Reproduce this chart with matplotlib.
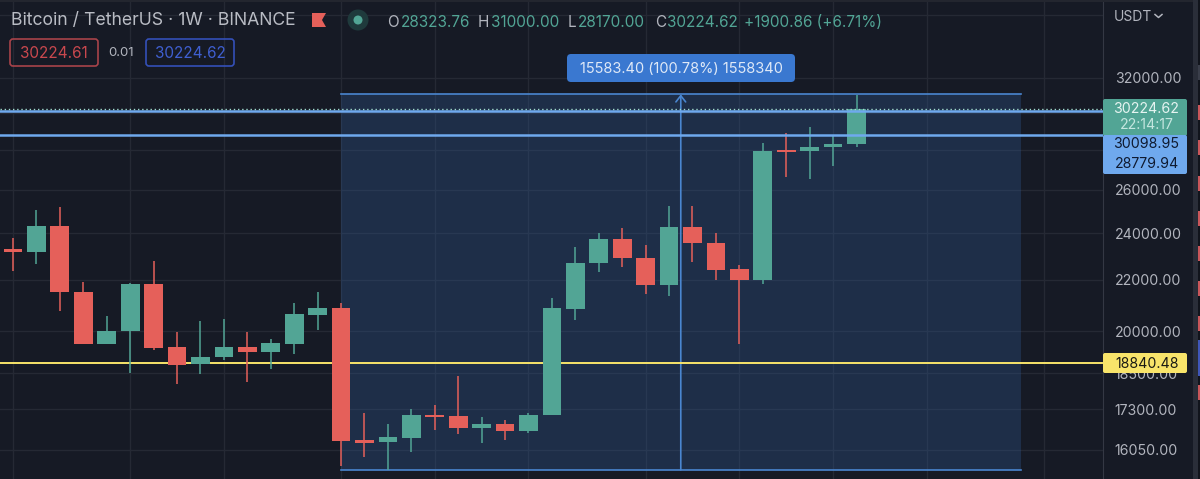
import matplotlib
matplotlib.use("Agg")
from matplotlib import pyplot as plt
from matplotlib.patches import FancyBboxPatch, Rectangle, Polygon, Circle
from matplotlib.ticker import FixedLocator, FormatStrFormatter, NullLocator
import numpy as np

# weekly candles
opens = [23318, 23162, 24320, 21519, 19549, 20006, 21827, 19420, 18816, 19062,
         19442, 19263, 19549, 20619, 20901, 16349, 16281, 16420, 17128, 17086,
         16729, 16843, 16607, 17128, 20862, 22693, 23738, 22929, 21787, 24289,
         23551, 22444, 21999, 28003, 27951, 28159, 28323.76]
highs = [23783, 25054, 25207, 21919, 20592, 21860, 22801, 19968, 20389, 20476,
         19968, 19719, 21094, 21506, 21094, 17201, 16834, 17320, 17449, 18412,
         17064, 16967, 17192, 21266, 23404, 23993, 24244, 23477, 25253, 25239,
         23993, 22622, 28383, 28884, 29224, 28793, 31000]
lows = [22385, 22664, 20773, 19539, 19540, 18526, 19323, 18141, 18492, 18976,
        18207, 18664, 19191, 20054, 15582, 15834, 15476, 15998, 16658, 16544,
        16260, 16349, 16565, 17118, 20426, 22319, 22527, 21438, 21370, 22747,
        21999, 19549, 21839, 26648, 26533, 27199, 28170]
closes = [23162, 24320, 21506, 19549, 20006, 21827, 19406, 18792, 19073, 19442,
          19263, 19574, 20646, 20901, 16328, 16260, 16432, 17118, 17064, 16720,
          16843, 16607, 17137, 20878, 22718, 23751, 22916, 21787, 24289, 23551,
          22427, 21999, 27967, 27899, 28175, 28324, 30224.62]

price_ticks = [36000, 32000, 30000, 28000, 26000, 24000, 22000, 20000, 18500, 17300, 16050]
time_grid = [0, 5, 9, 14, 18, 22, 27, 31, 35, 39, 44]

last_price = 30224.62
range_high = 30098.95
range_low = 28779.94
support = 18840.48
measure_top = 31046
measure_bottom = 15463
measure_start = 14
measure_end = 43

BG = "#161a25"
GRID = "#252934"
GREEN = "#52a595"
RED = "#e5605a"
BLUE = "#4a86d0"
LIGHT_BLUE = "#6fa9ee"
YELLOW = "#f8e46a"
TEXT = "#b2b5be"
AXIS_SIZE = 10.2

W, H = 1200, 479
AXIS_X = 1103

fig = plt.figure(figsize=(W / 100, H / 100), dpi=100, facecolor=BG)
plt.rcParams["font.family"] = ["Inter", "DejaVu Sans"]

ax = fig.add_axes([0, 0, AXIS_X / W, 1], facecolor=BG)
ax.set_yscale("log")
ax.set_xlim(-0.555, 46.52)
ax.set_ylim(15206, 36982)

# Grid and price axis
ax.yaxis.tick_right()
ax.yaxis.set_major_locator(FixedLocator(price_ticks))
ax.yaxis.set_minor_locator(NullLocator())
ax.yaxis.set_major_formatter(FormatStrFormatter("%.2f"))
ax.tick_params(axis="y", length=0, pad=8.5, labelsize=AXIS_SIZE, labelcolor=TEXT)
ax.xaxis.set_major_locator(FixedLocator(time_grid))
ax.xaxis.set_minor_locator(NullLocator())
ax.tick_params(axis="x", length=0, labelbottom=False)
ax.grid(True, color=GRID, linewidth=1)
ax.set_axisbelow(True)
for name, spine in ax.spines.items():
    spine.set_visible(name == "right")
    spine.set_color("#343844")
labels = ax.get_yticklabels()
labels[0].set_visible(False)
labels[2].set_visible(False)
labels[3].set_visible(False)

# Measure box
ax.fill_between([measure_start, measure_end], measure_bottom, measure_top,
                color="#315d9a", alpha=0.3, linewidth=0, zorder=1)
ax.plot([measure_start, measure_end], [measure_top, measure_top], color=BLUE, lw=1.2, zorder=2)
ax.plot([measure_start, measure_end], [measure_bottom, measure_bottom], color=BLUE, lw=1.2, zorder=2)
mid = (measure_start + measure_end) / 2
ax.annotate("", xy=(mid, measure_top), xytext=(mid, measure_bottom), zorder=2,
            arrowprops=dict(arrowstyle="->,head_length=0.45,head_width=0.35", color=BLUE, lw=1.2,
                            shrinkA=0, shrinkB=0))

# Horizontal levels
ax.axhline(support, color=YELLOW, lw=1.4, zorder=2)
ax.axhline(range_high, color=LIGHT_BLUE, lw=1.8, zorder=5)
ax.axhline(range_low, color=LIGHT_BLUE, lw=1.8, zorder=5)
ax.axhline(last_price, color="#9fd8cc", lw=1, ls=(0, (1, 2)), zorder=5)

# Candles
x = np.arange(len(opens))
o, h, l, c = map(np.array, (opens, highs, lows, closes))
colors = [GREEN if up else RED for up in c >= o]
ax.vlines(x, l, h, colors=colors, linewidth=1.1, zorder=3)
ax.bar(x, np.abs(c - o), bottom=np.minimum(o, c), width=0.8, color=colors, linewidth=0, zorder=4)

# Overlay in pixel units for the header and price labels
ui = fig.add_axes([0, 0, 1, 1])
ui.set_xlim(0, W)
ui.set_ylim(H, 0)
ui.axis("off")
ui.patch.set_alpha(0)


def box(x0, y0, x1, y1, face="none", edge="none", radius=2, lw=1.0, z=6):
    ui.add_patch(FancyBboxPatch((x0 + radius, y0 + radius), x1 - x0 - 2 * radius, y1 - y0 - 2 * radius,
                                boxstyle=f"round,pad={radius},rounding_size={radius}",
                                facecolor=face, edgecolor=edge, linewidth=lw, zorder=z))


# top edge and right gutter
ui.add_patch(Rectangle((0, 0), W, 1.5, color="#23262f", lw=0))
ui.add_patch(Rectangle((1193, 0), 7, H, color="#2a2e39", lw=0))
ui.add_patch(Rectangle((1198, 0), 2, H, color="#11141c", lw=0))
ui.add_patch(Rectangle((1198, 65), 2, 15, color="#3a3e4a", lw=0))
for top in [105, 140, 176, 211, 246, 281, 316, 385]:
    ui.add_patch(Rectangle((1198, top), 2, 15, color="#c9565a", lw=0))
ui.add_patch(Rectangle((1198, 340), 2, 36, color="#3f56b8", lw=0))

# header
ui.text(11, 20, "Bitcoin / TetherUS · 1W · BINANCE", color="#b9bcc4", fontsize=12.7, va="center")
ui.add_patch(Polygon([(312, 13), (326, 13), (322, 20), (326, 27), (312, 27)], color=RED, lw=0))
ui.add_patch(Circle((358, 20), 10.5, color="#1f3a3c", lw=0))
ui.add_patch(Circle((358, 20), 4.5, color=GREEN, lw=0))

ohlc = [(387, "O", 401, "28323.76"), (478, "H", 491, "31000.00"),
        (568, "L", 578, "28170.00"), (655, "C", 667, "30224.62")]
for lx, letter, vx, value in ohlc:
    ui.text(lx, 22, letter, color=TEXT, fontsize=11, va="center")
    ui.text(vx, 22, value, color=GREEN, fontsize=11, va="center")
ui.text(744, 22, "+1900.86 (+6.71%)", color=GREEN, fontsize=11, va="center")

box(10, 39, 98, 66, edge="#a8434a", radius=3, lw=1.2)
ui.text(54, 53, "30224.61", color="#c9484e", fontsize=11, ha="center", va="center")
ui.text(121, 53, "0.01", color=TEXT, fontsize=9.5, ha="center", va="center")
box(146, 39, 234, 66, edge="#3450b8", radius=3, lw=1.2)
ui.text(190, 53, "30224.62", color="#3f5fd0", fontsize=11, ha="center", va="center")

# measure label
box(567, 54, 795, 82, face="#3a78d0", radius=4)
ui.text(681, 68.5, "15583.40 (100.78%) 1558340", color="#dfe9f7", fontsize=10.5, ha="center", va="center", zorder=7)

# price axis labels
ui.text(1114, 17, "USDT", color=TEXT, fontsize=10, va="center")
ui.plot([1155, 1158.5, 1162], [14.5, 17.5, 14.5], color=TEXT, lw=1.1)

box(1103, 99, 1187, 136, face=GREEN, radius=2)
ui.text(1179, 109, "30224.62", color="#e6f4f1", fontsize=AXIS_SIZE, ha="right", va="center", zorder=7)
ui.text(1174, 125, "22:14:17", color="#c4e6df", fontsize=AXIS_SIZE, ha="right", va="center", zorder=7)
box(1103, 135, 1187, 174, face=LIGHT_BLUE, radius=2, z=6.5)
ui.text(1179, 144.5, "30098.95", color="#0f1a30", fontsize=AXIS_SIZE, ha="right", va="center", zorder=7)
ui.text(1179, 164.5, "28779.94", color="#0f1a30", fontsize=AXIS_SIZE, ha="right", va="center", zorder=7)
box(1103, 353, 1187, 373, face=YELLOW, radius=2)
ui.text(1179, 363.5, "18840.48", color="#1a1a14", fontsize=AXIS_SIZE, ha="right", va="center", zorder=7)

fig.savefig("out.png", dpi=100, facecolor=BG)
